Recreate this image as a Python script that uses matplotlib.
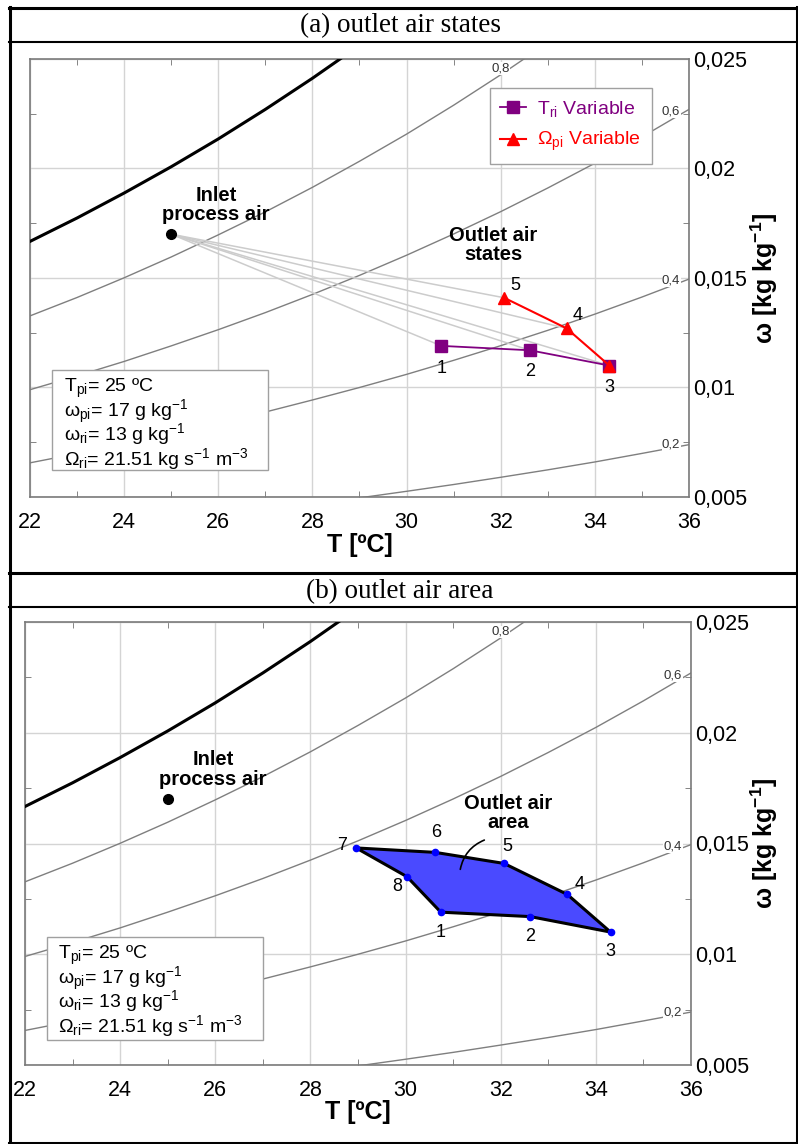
import matplotlib.pyplot as plt
from matplotlib.lines import Line2D
from matplotlib.patches import Rectangle
from matplotlib.ticker import FuncFormatter, MultipleLocator

plt.rcParams['font.family'] = ['Liberation Sans', 'DejaVu Sans']
plt.rcParams['mathtext.default'] = 'regular'

# relative humidity curves of the chart (T in ºC, w in kg/kg)
t_sat = [22, 23, 24, 25, 26, 27, 28, 29]
w_sat = [0.01667, 0.01774, 0.01888, 0.02008, 0.02135, 0.02270, 0.02412, 0.02562]
t_rh80 = [22, 23, 24, 25, 26, 27, 28, 29, 30, 31, 32, 33]
w_rh80 = [0.01327, 0.01411, 0.01501, 0.01596, 0.01697, 0.01802, 0.01914,
          0.02033, 0.02157, 0.02289, 0.02428, 0.02574]
t_full = [22, 23, 24, 25, 26, 27, 28, 29, 30, 31, 32, 33, 34, 35, 36]
w_rh60 = [0.00990, 0.01053, 0.01119, 0.01190, 0.01264, 0.01342, 0.01425, 0.01512,
          0.01604, 0.01701, 0.01803, 0.01911, 0.02024, 0.02144, 0.02270]
w_rh40 = [0.00656, 0.00698, 0.00742, 0.00788, 0.00837, 0.00888, 0.00943, 0.01000,
          0.01060, 0.01124, 0.01191, 0.01261, 0.01335, 0.01413, 0.01495]
t_rh20 = [28, 29, 30, 31, 32, 33, 34, 35, 36]
w_rh20 = [0.00468, 0.00496, 0.00526, 0.00557, 0.00590, 0.00624, 0.00660, 0.00699, 0.00739]

rh_text = ['0,8', '0,6', '0,4', '0,2']
rh_text_T = [32.0, 35.62, 35.62, 35.62]
rh_text_w = [0.02455, 0.02258, 0.01488, 0.00738]

inlet_T = 25.0
inlet_w = 0.0170

# outlet air states 1..8
pt_T = [30.74, 32.62, 34.31, 33.40, 32.07, 30.62, 28.96, 30.03]
pt_w = [0.0119, 0.0117, 0.0110, 0.0127, 0.0141, 0.0146, 0.0148, 0.0135]

tri_states = [1, 2, 3]
omega_states = [5, 4, 3]
area_states = [7, 6, 5, 4, 3, 2, 1, 8]

info_lines = ["T$_{pi}$= 25 ºC",
              "ω$_{pi}$= 17 g kg$^{-1}$",
              "ω$_{ri}$= 13 g kg$^{-1}$",
              "Ω$_{ri}$= 21.51 kg s$^{-1}$ m$^{-3}$"]

W, H = 798, 1144
fig = plt.figure(figsize=(W / 100, H / 100), dpi=100)


def fx(px):
    return px / W


def fy(py):
    return 1 - py / H


def hline(py, x0, x1, lw):
    fig.add_artist(Line2D([fx(x0), fx(x1)], [fy(py), fy(py)], color='k', lw=lw,
                          transform=fig.transFigure))


def vline(px, y0, y1, lw):
    fig.add_artist(Line2D([fx(px), fx(px)], [fy(y0), fy(y1)], color='k', lw=lw,
                          transform=fig.transFigure))


# table frame around the two panels
hline(8, 9, 798, 2.2)
hline(42, 9, 798, 1.5)
hline(573, 9, 798, 2.2)
hline(607, 9, 798, 1.5)
hline(1143, 9, 798, 2.2)
vline(10, 7, 1144, 2.2)
vline(797, 7, 1144, 2.2)
fig.text(fx(400), fy(26), '(a) outlet air states', family='Liberation Serif',
         fontsize=19.5, ha='center', va='center')
fig.text(fx(400), fy(592), '(b) outlet air area', family='Liberation Serif',
         fontsize=19.5, ha='center', va='center')


def base(ax):
    ax.set_xlim(22, 36)
    ax.set_ylim(0.005, 0.025)
    ax.xaxis.set_major_locator(MultipleLocator(2))
    ax.xaxis.set_minor_locator(MultipleLocator(1))
    ax.yaxis.set_major_locator(MultipleLocator(0.005))
    ax.yaxis.set_minor_locator(MultipleLocator(0.0025))
    ax.yaxis.tick_right()
    ax.yaxis.set_label_position('right')
    ax.yaxis.set_major_formatter(FuncFormatter(lambda v, p: ('%g' % round(v, 4)).replace('.', ',')))
    ax.tick_params(which='major', length=0, labelsize=15.5)
    ax.tick_params(axis='x', which='major', pad=11)
    ax.tick_params(axis='y', which='major', pad=3)
    ax.tick_params(which='minor', direction='in', length=4, color='#707070',
                   top=True, bottom=True, left=True, right=True)
    ax.grid(True, which='major', color='#d4d4d4', lw=1)
    ax.set_axisbelow(True)
    for s in ax.spines.values():
        s.set_color('#7a7a7a')
        s.set_linewidth(1.2)

    for t, w in [(t_rh80, w_rh80), (t_full, w_rh60), (t_full, w_rh40), (t_rh20, w_rh20)]:
        ax.plot(t, w, color='#7f7f7f', lw=1, zorder=2)
    ax.plot(t_sat, w_sat, color='k', lw=2.2, zorder=3)
    for lab, t, w in zip(rh_text, rh_text_T, rh_text_w):
        ax.text(t, w, lab, fontsize=9.5, color='#333333', ha='center', va='center',
                zorder=3, bbox=dict(fc='white', ec='none', pad=0.3))

    ax.plot([inlet_T], [inlet_w], 'o', color='k', ms=7, zorder=6)
    ax.text(25.95, 0.01833, 'Inlet\nprocess air', fontsize=14.5, fontweight='bold',
            ha='center', va='center', linespacing=1.05, zorder=7)

    ax.set_xlabel('T [ºC]', fontsize=18, fontweight='bold')
    ax.set_ylabel('ω [kg kg$^{-1}$]', fontsize=18, fontweight='bold', rotation=90)


def info_box(ax, box, x_text, baselines):
    x0, y0, x1, y1 = box
    ax.add_patch(Rectangle((x0, y0), x1 - x0, y1 - y0, transform=ax.transAxes,
                           fc='white', ec='#a0a0a0', lw=1, zorder=9))
    for line, yb in zip(info_lines, baselines):
        ax.text(x_text, yb, line, transform=ax.transAxes, fontsize=14,
                ha='left', va='baseline', zorder=10)


def state_labels(ax, states, offsets):
    for s in states:
        ax.annotate(str(s), (pt_T[s - 1], pt_w[s - 1]), xytext=offsets[s],
                    textcoords='offset points', ha='center', va='center',
                    fontsize=13, zorder=8)


# ---------- (a) outlet air states ----------
ax1 = fig.add_axes([fx(30), fy(497), (689 - 30) / W, (497 - 59) / H])
base(ax1)
for s in [1, 2, 3, 4, 5]:
    ax1.plot([inlet_T, pt_T[s - 1]], [inlet_w, pt_w[s - 1]], color='#cccccc', lw=1.1, zorder=4)
l1, = ax1.plot([pt_T[s - 1] for s in tri_states], [pt_w[s - 1] for s in tri_states],
               marker='s', ms=8.5, color='#800080', lw=1.3, zorder=5,
               label='T$_{ri}$ Variable')
l2, = ax1.plot([pt_T[s - 1] for s in omega_states], [pt_w[s - 1] for s in omega_states],
               marker='^', ms=9, color='#ff0000', lw=1.5, zorder=5,
               label='Ω$_{pi}$ Variable')
leg = ax1.legend(handles=[l1, l2], loc='upper right', bbox_to_anchor=(0.944, 0.934),
                 borderaxespad=0, fontsize=14, labelcolor='linecolor', fancybox=False,
                 framealpha=1, edgecolor='#a0a0a0', handlelength=1.3, handletextpad=0.6,
                 borderpad=0.55, labelspacing=0.6)
leg.get_frame().set_linewidth(1)
ax1.text(31.84, 0.01651, 'Outlet air\nstates', fontsize=14.5, fontweight='bold',
         ha='center', va='center', linespacing=1.05, zorder=7)
state_labels(ax1, [1, 2, 3, 4, 5],
             {1: (0, -16), 2: (0, -15), 3: (0, -16), 4: (8, 9), 5: (8, 9)})
info_box(ax1, (0.0334, 0.0616, 0.361, 0.29), 0.0516, [0.2397, 0.1826, 0.1301, 0.0731])
ax1.xaxis.set_label_coords(0.5, -0.083)
ax1.yaxis.set_label_coords(1.09, 0.5)

# ---------- (b) outlet air area ----------
ax2 = fig.add_axes([fx(25), fy(1065), (691 - 25) / W, (1065 - 622) / H])
base(ax2)
ax2.fill([pt_T[s - 1] for s in area_states], [pt_w[s - 1] for s in area_states],
         facecolor='#4a4aff', edgecolor='k', lw=2.2, joinstyle='round', zorder=5)
ax2.plot([pt_T[s - 1] for s in area_states], [pt_w[s - 1] for s in area_states],
         'o', color='#0000ff', ms=4.5, zorder=6)
ax2.text(32.15, 0.01638, 'Outlet air\narea', fontsize=14.5, fontweight='bold',
         ha='center', va='center', linespacing=1.05, zorder=7)
ax2.annotate('', xy=(31.14, 0.01371), xytext=(31.71, 0.0152),
             arrowprops=dict(arrowstyle='-', connectionstyle='arc3,rad=0.3', lw=1.2, color='k'),
             zorder=7)
state_labels(ax2, [1, 2, 3, 4, 5, 6, 7, 8],
             {1: (0, -15), 2: (0, -14), 3: (0, -14), 4: (9, 7), 5: (2, 12),
              6: (1, 14), 7: (-10, 2), 8: (-7, -7)})
info_box(ax2, (0.033, 0.0564, 0.357, 0.289), 0.0495, [0.2393, 0.1828, 0.1309, 0.0745])
ax2.xaxis.set_label_coords(0.5, -0.078)
ax2.yaxis.set_label_coords(1.087, 0.5)

fig.savefig('out.png', dpi=100)
